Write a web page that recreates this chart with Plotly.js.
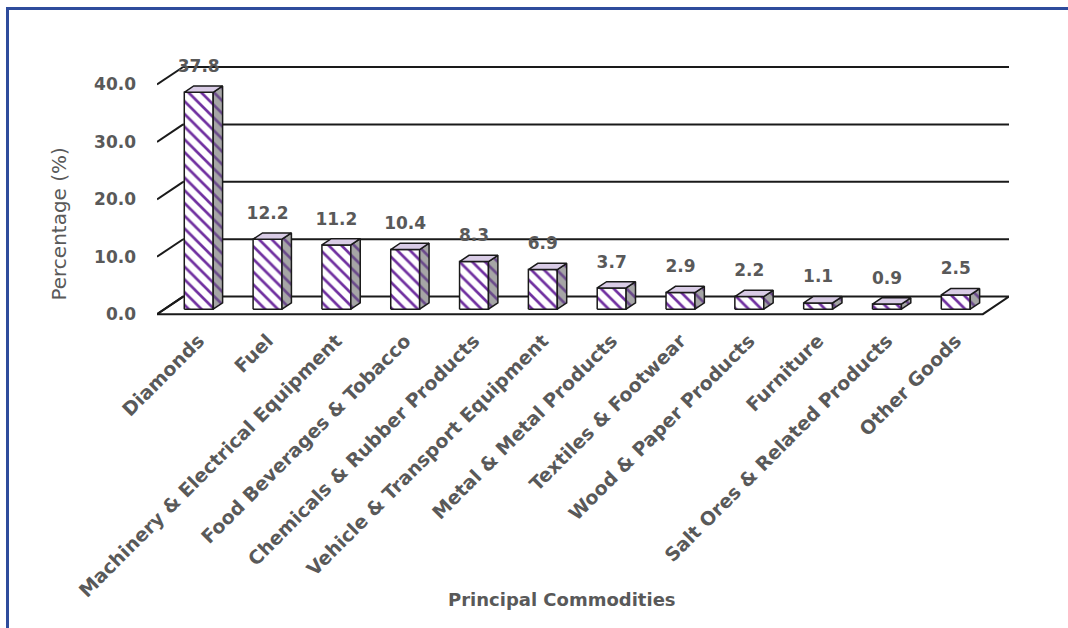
<!DOCTYPE html>
<html>
<head>
<meta charset="utf-8">
<script src="https://cdn.plot.ly/plotly-3.0.1.min.js"></script>
<style>
  html, body { margin: 0; padding: 0; background: #ffffff; }
  #wrap { position: relative; width: 1068px; height: 628px; overflow: hidden; }
  #chart { position: absolute; left: 0; top: 0; width: 1068px; height: 628px; }
  #frame { position: absolute; left: 6px; top: 7px; width: 1100px; height: 700px;
           border-top: 3px solid #2E4C9C; border-left: 3px solid #2E4C9C; pointer-events: none; }
</style>
</head>
<body>
<div id="wrap">
  <div id="chart"></div>
  <div id="frame"></div>
</div>
<script>
// ---- data ----
const categories = [
  "Diamonds", "Fuel", "Machinery & Electrical Equipment", "Food Beverages & Tobacco",
  "Chemicals & Rubber Products", "Vehicle & Transport Equipment", "Metal & Metal Products",
  "Textiles & Footwear", "Wood & Paper Products", "Furniture",
  "Salt Ores & Related Products", "Other Goods"
];
const values = [37.8, 12.2, 11.2, 10.4, 8.3, 6.9, 3.7, 2.9, 2.2, 1.1, 0.9, 2.5];
const yTickValues = [0, 10, 20, 30, 40];
const yTickLabels = ["0.0", "10.0", "20.0", "30.0", "40.0"];
const xTitle = "Principal Commodities";
const yTitle = "Percentage (%)";

// ---- 3D geometry (in axis units) ----
const DX = 0.38;   // depth offset along x
const DY = 3.05;   // depth offset along y
const F = 0.28;    // depth of bar front face
const BD = 0.36;   // bar depth fraction
const BW = 0.42;   // bar width
const N = categories.length;
const xMin = -0.5, xMax = N - 0.5;

const idx = categories.map((_, i) => i);
const barX = idx.map(i => i + F * DX);

const purple = "#7030A0";
const gray = "#595959";
const lineCol = "#1a1a1a";
const FONT = "DejaVu Sans";

// floor
const floorTrace = {
  type: "scatter", mode: "lines",
  x: [xMin, xMax, xMax + DX, xMin + DX, xMin],
  y: [0, 0, DY, DY, 0],
  fill: "toself", fillcolor: "#ffffff",
  line: { color: lineCol, width: 2 },
  hoverinfo: "skip", showlegend: false
};

// back wall gridlines + slanted ticks
const gx = [], gy = [];
yTickValues.forEach(v => {
  if (v > 0) { gx.push(xMin + DX, xMax + DX, null); gy.push(v + DY, v + DY, null); }
  gx.push(xMin, xMin + DX, null); gy.push(v, v + DY, null);
});
const gridTrace = {
  type: "scatter", mode: "lines", x: gx, y: gy,
  line: { color: lineCol, width: 2 }, hoverinfo: "skip", showlegend: false
};

function facePolys(fn) {
  const px = [], py = [];
  values.forEach((v, i) => {
    const pts = fn(v, i);
    pts.forEach(p => { px.push(p[0]); py.push(p[1]); });
    px.push(pts[0][0], null); py.push(pts[0][1], null);
  });
  return { px, py };
}

// front faces
const fr = facePolys((v, i) => {
  const xl = barX[i] - BW / 2, xr = barX[i] + BW / 2, b = F * DY, t = v + F * DY;
  return [[xl, b], [xr, b], [xr, t], [xl, t]];
});
const frontTrace = {
  type: "scatter", mode: "lines", x: fr.px, y: fr.py, fill: "toself",
  fillcolor: "#ffffff",
  fillpattern: { shape: "\\", fgcolor: purple, bgcolor: "#ffffff", size: 9, solidity: 0.3 },
  line: { color: lineCol, width: 1.5 }, hoverinfo: "skip", showlegend: false
};

// side faces
const sd = facePolys((v, i) => {
  const xr = barX[i] + BW / 2, b = F * DY, t = v + F * DY;
  return [[xr, b], [xr + BD * DX, b + BD * DY], [xr + BD * DX, t + BD * DY], [xr, t]];
});
const sideTrace = {
  type: "scatter", mode: "lines", x: sd.px, y: sd.py, fill: "toself",
  fillcolor: "#A6A6A6",
  fillpattern: { shape: "\\", fgcolor: "#6A4A8A", bgcolor: "#A6A6A6", size: 9, solidity: 0.3 },
  line: { color: lineCol, width: 1.5 }, hoverinfo: "skip", showlegend: false
};

// top faces
const tp = facePolys((v, i) => {
  const xl = barX[i] - BW / 2, xr = barX[i] + BW / 2, t = v + F * DY;
  return [[xl, t], [xr, t], [xr + BD * DX, t + BD * DY], [xl + BD * DX, t + BD * DY]];
});
const topTrace = {
  type: "scatter", mode: "lines", x: tp.px, y: tp.py, fill: "toself",
  fillcolor: "#D9CCE6",
  line: { color: lineCol, width: 1.5 }, hoverinfo: "skip", showlegend: false
};

// value labels
const labelTrace = {
  type: "scatter", mode: "text",
  x: barX,
  y: values.map(v => v + F * DY + 4.3),
  text: values.map(v => v.toFixed(1)),
  textposition: "middle center",
  textfont: { family: FONT, size: 17, color: gray, weight: "bold" },
  cliponaxis: false, hoverinfo: "skip", showlegend: false
};

const layout = {
  width: 1068, height: 628,
  margin: { l: 157, r: 59, t: 61, b: 311 },
  paper_bgcolor: "#ffffff", plot_bgcolor: "rgba(0,0,0,0)",
  showlegend: false,
  xaxis: {
    range: [xMin, xMax + DX],
    tickvals: barX, ticktext: categories, tickangle: -45,
    showgrid: false, zeroline: false, showline: false,
    ticks: "", ticklabelstandoff: 8,
    tickfont: { family: FONT, size: 19, color: gray, weight: "bold" }
  },
  yaxis: {
    range: [-0.5, 44.1],
    tickvals: yTickValues, ticktext: yTickLabels,
    showgrid: false, zeroline: false, showline: false,
    ticks: "", ticklabelstandoff: 20,
    tickfont: { family: FONT, size: 17, color: gray, weight: "bold" }
  },
  annotations: [
    { text: yTitle, xref: "paper", yref: "y", x: -0.115, y: 15.6, textangle: -90,
      showarrow: false, xanchor: "center", yanchor: "middle",
      font: { family: FONT, size: 20, color: gray } },
    { text: xTitle, xref: "paper", yref: "paper", x: 0.475, y: -1.105,
      showarrow: false, xanchor: "center", yanchor: "middle",
      font: { family: FONT, size: 18, color: gray, weight: "bold" } }
  ]
};

Plotly.newPlot("chart", [floorTrace, gridTrace, frontTrace, sideTrace, topTrace, labelTrace], layout,
  { displayModeBar: false, staticPlot: true });
</script>
</body>
</html>
